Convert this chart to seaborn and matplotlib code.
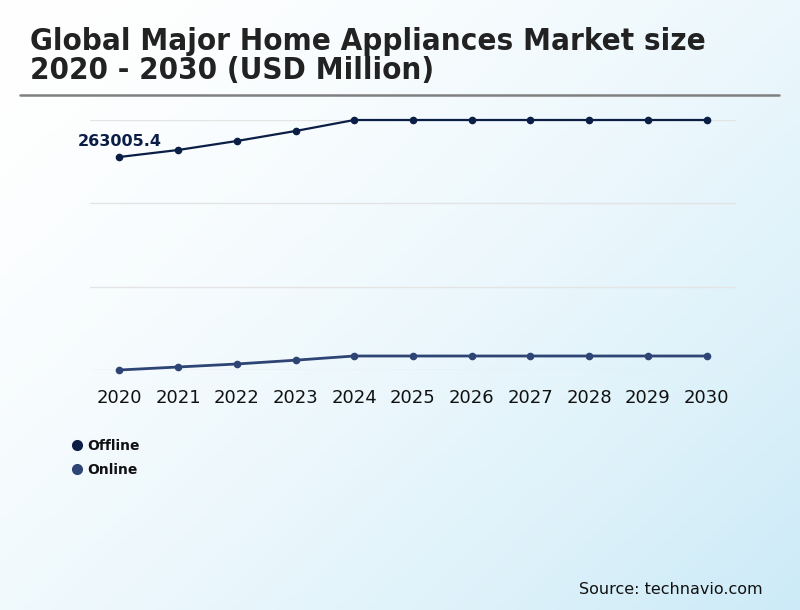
import numpy as np
import pandas as pd
import matplotlib
matplotlib.use("Agg")
import matplotlib.pyplot as plt
from matplotlib.lines import Line2D
import seaborn as sns

years = [2020, 2021, 2022, 2023, 2024, 2025, 2026, 2027, 2028, 2029, 2030]
offline = [263005.4, 269025, 276765, 285365, 294825, 294825, 294825, 294825, 294825, 294825, 294825]
online = [79825, 82405, 84985, 88265, 91865, 91865, 91865, 91865, 91865, 91865, 91865]
series_names = ["Offline", "Online"]
colors = ["#0b1e45", "#2d4475"]
title = "Global Major Home Appliances Market size\n2020 - 2030 (USD Million)"
source = "Source: technavio.com"

df = pd.DataFrame({
    "year": years * 2,
    "value": offline + online,
    "segment": [series_names[0]] * len(years) + [series_names[1]] * len(years),
})

sns.set_theme(style="white")
plt.rcParams["font.family"] = ["DejaVu Sans"]

fig = plt.figure(figsize=(8, 6.1), dpi=100)

# gradient background
bg = fig.add_axes([0, 0, 1, 1], zorder=-10)
nx, ny = 200, 160
xx, yy = np.meshgrid(np.linspace(0, 1, nx), np.linspace(0, 1, ny))
t = np.clip((xx * 0.55 + yy * 0.45), 0, 1) ** 1.6
c0 = np.array([1.0, 1.0, 1.0])
c1 = np.array([0.80, 0.92, 0.97])
img = c0[None, None, :] * (1 - t[..., None]) + c1[None, None, :] * t[..., None]
bg.imshow(img, aspect="auto", extent=[0, 1, 0, 1], origin="upper")
bg.axis("off")

W, H = 800, 610
left, right, top, bottom = 90, 736, 120, 370
ax = fig.add_axes([left / W, (H - bottom) / H, (right - left) / W, (bottom - top) / H])
ax.patch.set_alpha(0)

lw = {"Offline": 1.6, "Online": 2.0}
for name, col in zip(series_names, colors):
    sub = df[df["segment"] == name]
    sns.lineplot(data=sub, x="year", y="value", ax=ax, color=col, linewidth=lw[name],
                 marker="o", markersize=5.5, markeredgewidth=0, clip_on=False, legend=False, zorder=3)

ymin, ymax = min(online), max(offline)
ax.set_ylim(ymin, ymax)
ax.set_xlim(years[0] - 0.5, years[-1] + 0.5)
ax.set_yticks(np.linspace(ymin, ymax, 4))
ax.set_yticklabels([])
ax.grid(axis="y", color="#e4e4e4", linewidth=1)
ax.grid(axis="x", visible=False)
ax.set_xticks(years)
ax.set_xticklabels([str(y) for y in years], fontsize=13, color="#111111")
ax.tick_params(axis="x", length=0, pad=14)
ax.tick_params(axis="y", length=0)
for s in ax.spines.values():
    s.set_visible(False)
ax.set_xlabel("")
ax.set_ylabel("")

ax.annotate(f"{offline[0]}", xy=(years[0], offline[0]), xytext=(0, 10.8), textcoords="offset points",
            ha="center", va="center", fontsize=11.5, fontweight="bold", color=colors[0])

fig.text(30 / W, 1 - 56 / H, title, fontsize=22.4, fontweight="bold", fontstretch="condensed",
         color="#222222", ha="left", va="center", linespacing=1.0)
fig.add_artist(Line2D([20 / W, 779 / W], [1 - 95 / H, 1 - 95 / H], color="#808080", linewidth=1.8))

handles = [Line2D([], [], marker="o", linestyle="none", markersize=7, color=c) for c in colors]
leg = fig.legend(handles, series_names, loc="upper left", bbox_to_anchor=(56 / W, 1 - 426 / H),
                 frameon=False, handletextpad=0.15, labelspacing=0.75, fontsize=10,
                 handlelength=1.2)
for txt in leg.get_texts():
    txt.set_fontweight("bold")
    txt.set_color("#111111")

fig.text(763 / W, 1 - 589 / H, source, fontsize=11.5, ha="right", va="center", color="#111111")

fig.savefig("out.png", dpi=100)
